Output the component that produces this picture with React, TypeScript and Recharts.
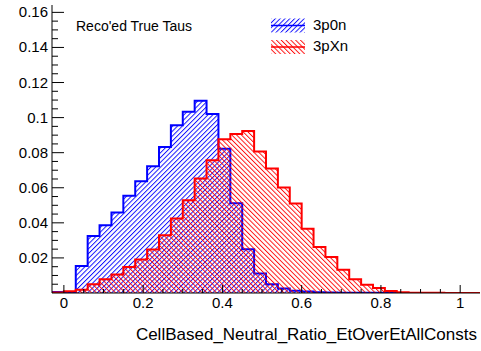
import React from 'react';
import { ComposedChart, Area, XAxis, YAxis, Legend } from 'recharts';

// histogram binning: 36 bins of 0.03 starting at -0.03
const binLow = -0.03;
const binWidth = 0.03;

// normalised bin contents
const p0n = [
  0.0005, 0.0006, 0.0154, 0.0325, 0.0386, 0.0459, 0.0554, 0.0637, 0.0723, 0.0833,
  0.0957, 0.1033, 0.1096, 0.102, 0.0822, 0.0512, 0.0249, 0.0111, 0.005, 0.0026,
  0.0013, 0.0008, 0.0004, 0.0003, 0.0002, 0.0001, 0.0001, 0.0001, 0, 0,
  0, 0, 0, 0, 0, 0,
];
const pXn = [
  0.0003, 0.001, 0.0019, 0.005, 0.0078, 0.0105, 0.0148, 0.0191, 0.0248, 0.0329,
  0.0425, 0.0529, 0.0653, 0.0757, 0.0876, 0.0906, 0.0923, 0.0807, 0.071, 0.0602,
  0.051, 0.0367, 0.0262, 0.0205, 0.0133, 0.0079, 0.0047, 0.0029, 0.0011, 0.0004,
  0.0002, 0.0001, 0.0001, 0, 0, 0,
];

const xMajor = [0, 0.2, 0.4, 0.6, 0.8, 1];
const yMajor = [0.02, 0.04, 0.06, 0.08, 0.1, 0.12, 0.14, 0.16];
const xTicks = Array.from({ length: 21 }, (_, i) => +(i * 0.05).toFixed(2));
const yTicks = Array.from({ length: 32 }, (_, i) => +((i + 1) * 0.005).toFixed(3));

const data = [...p0n, p0n[p0n.length - 1]].map((v, i) => ({
  x: +(binLow + i * binWidth).toFixed(2),
  p0n: v,
  pXn: pXn[Math.min(i, pXn.length - 1)],
}));

const FONT = '"Liberation Sans", Arial, Helvetica, sans-serif';
const isMajor = (v: number, list: number[]) => list.some((m) => Math.abs(m - v) < 1e-6);

const BottomTick = (props: any) => {
  const { x, y, payload } = props;
  const major = isMajor(payload.value, xMajor);
  return (
    <g>
      <line x1={x} x2={x} y1={y} y2={y - (major ? 8 : 4)} stroke="#000" />
      {major && (
        <text x={x} y={y + 15} textAnchor="middle" fontSize={15} fontFamily={FONT} fill="#000">
          {payload.value}
        </text>
      )}
    </g>
  );
};

const TopTick = (props: any) => {
  const { x, y, payload } = props;
  const major = isMajor(payload.value, xMajor);
  return <line x1={x} x2={x} y1={y} y2={y + (major ? 8 : 4)} stroke="#000" />;
};

const LeftTick = (props: any) => {
  const { x, y, payload } = props;
  const major = isMajor(payload.value, yMajor);
  return (
    <g>
      <line x1={x} x2={x + (major ? 12 : 6)} y1={y} y2={y} stroke="#000" />
      {major && (
        <text x={x - 4} y={y + 5} textAnchor="end" fontSize={15} fontFamily={FONT} fill="#000">
          {payload.value}
        </text>
      )}
    </g>
  );
};

const RightTick = (props: any) => {
  const { x, y, payload } = props;
  const major = isMajor(payload.value, yMajor);
  return <line x1={x} x2={x - (major ? 12 : 6)} y1={y} y2={y} stroke="#000" />;
};

const hatchOf: Record<string, string> = { p0n: 'url(#hatchBlue)', pXn: 'url(#hatchRed)' };

const LegendBox = (props: any) => {
  const items = props.payload || [];
  return (
    <svg width={481} height={60} style={{ display: 'block' }}>
      <text x={76} y={30.5} fontSize={14} fontFamily={FONT} fill="#000">
        Reco'ed True Taus
      </text>
      {items.map((it: any, i: number) => {
        const top = 18.5 + i * 21.5;
        return (
          <g key={it.value}>
            <rect x={271} y={top} width={34} height={14} fill={hatchOf[it.dataKey]} />
            <line x1={271} x2={305} y1={top + 7} y2={top + 7} stroke={it.color} strokeWidth={1.5} />
            <text x={313} y={top + 11} fontSize={15} fontFamily={FONT} fill="#000">
              {it.value}
            </text>
          </g>
        );
      })}
    </svg>
  );
};

export default function App() {
  return (
    <div style={{ position: 'absolute', left: 0, top: 0, width: 481, height: 351, background: '#fff' }}>
      <ComposedChart width={481} height={351} data={data} margin={{ top: 5, right: 1, bottom: 0, left: 0 }}>
        <defs>
          <pattern id="hatchBlue" patternUnits="userSpaceOnUse" width="3.4" height="10" patternTransform="rotate(45)">
            <line x1="0.5" y1="0" x2="0.5" y2="10" stroke="#0000ff" strokeWidth="0.9" />
          </pattern>
          <pattern id="hatchRed" patternUnits="userSpaceOnUse" width="3.4" height="10" patternTransform="rotate(-45)">
            <line x1="0.5" y1="0" x2="0.5" y2="10" stroke="#ff0000" strokeWidth="0.9" />
          </pattern>
        </defs>
        <XAxis
          xAxisId="b"
          dataKey="x"
          type="number"
          domain={[-0.03, 1.05]}
          allowDataOverflow
          ticks={xTicks}
          interval={0}
          height={58}
          tickSize={0}
          tickMargin={0}
          tickLine={false}
          tick={<BottomTick />}
          axisLine={{ stroke: '#000' }}
          label={{
            content: () => (
              <text x={477} y={340} textAnchor="end" fontSize={17} fontFamily={FONT} fill="#000">
                CellBased_Neutral_Ratio_EtOverEtAllConsts
              </text>
            ),
          }}
        />
        <XAxis
          xAxisId="t"
          orientation="top"
          dataKey="x"
          type="number"
          domain={[-0.03, 1.05]}
          allowDataOverflow
          ticks={xTicks}
          interval={0}
          height={0}
          tickSize={0}
          tickMargin={0}
          tickLine={false}
          tick={<TopTick />}
          axisLine={{ stroke: '#000' }}
        />
        <YAxis
          yAxisId="l"
          type="number"
          domain={[0, 0.1642]}
          allowDataOverflow
          ticks={yTicks}
          interval={0}
          width={52}
          tickSize={0}
          tickMargin={0}
          tickLine={false}
          tick={<LeftTick />}
          axisLine={{ stroke: '#000' }}
        />
        <YAxis
          yAxisId="r"
          orientation="right"
          type="number"
          domain={[0, 0.1642]}
          allowDataOverflow
          ticks={yTicks}
          interval={0}
          width={0}
          tickSize={0}
          tickMargin={0}
          tickLine={false}
          tick={<RightTick />}
          axisLine={{ stroke: '#000' }}
        />
        <Area
          xAxisId="b"
          yAxisId="l"
          name="3p0n"
          dataKey="p0n"
          type="stepAfter"
          stroke="#0000ff"
          strokeWidth={2}
          fill="url(#hatchBlue)"
          fillOpacity={1}
          dot={false}
          activeDot={false}
          isAnimationActive={false}
        />
        <Area
          xAxisId="b"
          yAxisId="l"
          name="3pXn"
          dataKey="pXn"
          type="stepAfter"
          stroke="#ff0000"
          strokeWidth={2}
          fill="url(#hatchRed)"
          fillOpacity={1}
          dot={false}
          activeDot={false}
          isAnimationActive={false}
        />
        <Legend
          layout="horizontal"
          verticalAlign="middle"
          align="center"
          content={<LegendBox />}
          wrapperStyle={{ top: 0, left: 0, width: 481, height: 60 }}
        />
      </ComposedChart>
    </div>
  );
}
